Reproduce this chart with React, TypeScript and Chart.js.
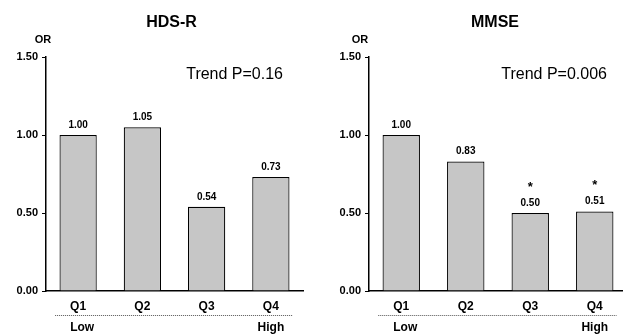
import React, { useEffect, useRef } from "react";
import { Chart, registerables } from "chart.js";

Chart.register(...registerables);

const categories = ["Q1", "Q2", "Q3", "Q4"];
const hdsValues = [1.0, 1.05, 0.54, 0.73];
const mmseValues = [1.0, 0.83, 0.5, 0.51];
const hdsStars = [false, false, false, false];
const mmseStars = [false, false, true, true];
const yTicks = [0, 0.5, 1.0, 1.5];
const hdsTitle = "HDS-R";
const mmseTitle = "MMSE";
const hdsTrend = "Trend P=0.16";
const mmseTrend = "Trend P=0.006";
const lowLabel = "Low";
const highLabel = "High";
const axisLabel = "OR";

const FONT = "Arial, 'Liberation Sans', sans-serif";

function makeChart(
  canvas: HTMLCanvasElement,
  values: number[],
  stars: boolean[],
  title: string,
  trend: string,
  yWidth: number,
  padRight: number,
  orOffset: number
) {
  const annot = {
    id: "annot",
    afterDatasetsDraw(chart: any) {
      const ctx = chart.ctx;
      const area = chart.chartArea;
      const xs = chart.scales.x;
      const meta = chart.getDatasetMeta(0);
      ctx.save();
      ctx.fillStyle = "#000";
      ctx.textAlign = "center";
      ctx.textBaseline = "middle";
      // value labels
      ctx.font = `bold 10px ${FONT}`;
      meta.data.forEach((bar: any, i: number) => {
        const v = values[i];
        ctx.fillText(v.toFixed(2), bar.x, bar.y - 10);
        if (stars[i]) {
          ctx.font = `bold 13px ${FONT}`;
          ctx.fillText("*", bar.x, bar.y - 26);
          ctx.font = `bold 10px ${FONT}`;
        }
      });
      // title
      ctx.font = `bold 16px ${FONT}`;
      ctx.fillText(title, (area.left + area.right) / 2 - 3, 23);
      // OR
      ctx.font = `bold 11px ${FONT}`;
      ctx.fillText(axisLabel, area.left - orOffset, 40);
      // trend
      ctx.font = `16px ${FONT}`;
      ctx.textAlign = "right";
      ctx.fillText(trend, area.right - 20, 75);
      // dotted line and Low / High
      const x1 = xs.getPixelForValue(0);
      const x4 = xs.getPixelForValue(categories.length - 1);
      ctx.strokeStyle = "#555";
      ctx.lineWidth = 1;
      ctx.setLineDash([1, 1]);
      ctx.beginPath();
      ctx.moveTo(x1 - 23, area.bottom + 24.5);
      ctx.lineTo(x4 + 22, area.bottom + 24.5);
      ctx.stroke();
      ctx.setLineDash([]);
      ctx.textAlign = "center";
      ctx.font = `bold 12px ${FONT}`;
      ctx.fillText(lowLabel, x1 + 4, area.bottom + 37);
      ctx.fillText(highLabel, x4, area.bottom + 37);
      ctx.restore();
    },
  };

  return new Chart(canvas, {
    type: "bar",
    data: {
      labels: categories,
      datasets: [
        {
          data: values,
          backgroundColor: "#c6c6c6",
          borderColor: "#000",
          borderWidth: 1.2,
          barPercentage: 0.58,
          categoryPercentage: 1,
        },
      ],
    },
    plugins: [annot],
    options: {
      animation: false,
      responsive: false,
      devicePixelRatio: 1,
      layout: { padding: { top: 57, right: padRight, bottom: 0, left: 0 } },
      plugins: {
        legend: { display: false },
        tooltip: { enabled: false },
        title: { display: false },
      },
      scales: {
        x: {
          grid: { display: true, drawOnChartArea: false, drawTicks: false, color: "#000" },
          border: { display: true, color: "#000", width: 1.5 },
          ticks: {
            color: "#000",
            padding: 8,
            font: { family: FONT, size: 12, weight: "bold" },
          },
          afterFit(scale: any) {
            scale.height = 44;
          },
        },
        y: {
          min: 0,
          max: 1.5,
          afterBuildTicks(scale: any) {
            scale.ticks = yTicks.map((v) => ({ value: v }));
          },
          grid: {
            display: true,
            drawOnChartArea: false,
            drawTicks: true,
            tickLength: 4,
            color: "#000",
          },
          border: { display: true, color: "#000", width: 1.5 },
          ticks: {
            color: "#000",
            padding: 4,
            font: { family: FONT, size: 11, weight: "bold" },
            callback: (v: any) => Number(v).toFixed(2),
          },
          afterFit(scale: any) {
            scale.width = yWidth;
          },
        },
      },
    },
  } as any);
}

export default function App() {
  const leftRef = useRef<HTMLCanvasElement>(null);
  const rightRef = useRef<HTMLCanvasElement>(null);

  useEffect(() => {
    const a = makeChart(leftRef.current!, hdsValues, hdsStars, hdsTitle, hdsTrend, 46, 8, 3);
    const b = makeChart(rightRef.current!, mmseValues, mmseStars, mmseTitle, mmseTrend, 58, 4, 9);
    return () => {
      a.destroy();
      b.destroy();
    };
  }, []);

  return (
    <div
      style={{
        position: "fixed",
        left: 0,
        top: 0,
        width: 623,
        height: 335,
        overflow: "hidden",
        background: "#fff",
      }}
    >
      <canvas
        ref={leftRef}
        width={311}
        height={335}
        style={{ position: "absolute", left: 0, top: 0, width: 311, height: 335 }}
      />
      <canvas
        ref={rightRef}
        width={320}
        height={335}
        style={{ position: "absolute", left: 311, top: 0, width: 320, height: 335 }}
      />
    </div>
  );
}
